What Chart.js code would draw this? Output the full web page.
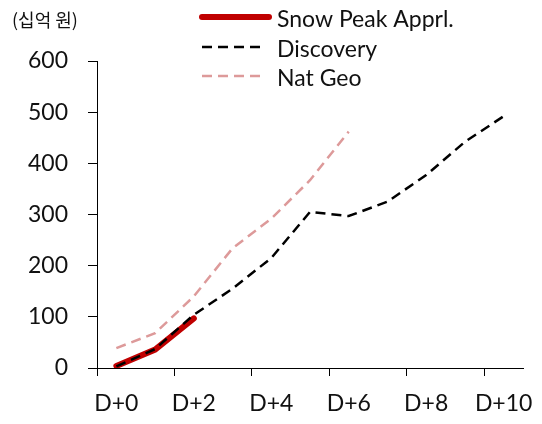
<!DOCTYPE html>
<html>
<head>
<meta charset="utf-8">
<script src="https://cdn.jsdelivr.net/npm/chart.js@4.4.0/dist/chart.umd.min.js"></script>
<style>
  body { margin: 0; background: #fff; }
  #wrap { width: 542px; height: 424px; }
</style>
</head>
<body>
<div id="wrap"><canvas id="chart" width="542" height="424"></canvas></div>
<script>
// categories and series (십억 원)
const days = ['D+0', 'D+1', 'D+2', 'D+3', 'D+4', 'D+5', 'D+6', 'D+7', 'D+8', 'D+9', 'D+10'];
const snowPeak = [4, 36, 97, null, null, null, null, null, null, null, null];
const discovery = [3, 37, 104, 155, 215, 305, 297, 325, 377, 442, 492];
const natGeo = [39, 68, 140, 234, 292, 367, 462, null, null, null, null];
const yTicks = [0, 100, 200, 300, 400, 500, 600];

const FONT = "Lato, 'Noto Sans', sans-serif";

// legend + unit label drawn by hand so the sample lines can be laid out in a column
const customLegend = {
    id: 'customLegend',
    afterDraw(chart) {
        const ctx = chart.ctx;
        ctx.save();
        ctx.fillStyle = '#111';
        ctx.font = "18px 'Noto Sans CJK KR', sans-serif";
        ctx.textBaseline = 'middle';
        ctx.textAlign = 'left';
        ctx.fillText('(십억 원)', 12, 20);

        const rows = [17, 47, 76];
        chart.data.datasets.forEach((ds, i) => {
            const y = rows[i];
            ctx.beginPath();
            ctx.strokeStyle = ds.borderColor;
            ctx.lineWidth = ds.legendWidth;
            ctx.lineCap = ds.borderDash ? 'butt' : 'round';
            ctx.setLineDash(ds.borderDash || []);
            ctx.moveTo(202, y);
            ctx.lineTo(ds.borderDash ? 266 : 269, y);
            ctx.stroke();
            ctx.setLineDash([]);
            ctx.fillStyle = '#111';
            ctx.font = '23px ' + FONT;
            ctx.fillText(ds.label, 277, y + 3);
        });
        ctx.restore();
    }
};

const ctx = document.getElementById('chart').getContext('2d');
new Chart(ctx, {
    type: 'line',
    data: {
        labels: days,
        datasets: [
            {
                label: 'Snow Peak Apprl.',
                data: snowPeak,
                borderColor: '#c00000',
                borderWidth: 6,
                legendWidth: 6,
                borderCapStyle: 'round',
                pointRadius: 0,
                tension: 0,
                order: 2
            },
            {
                label: 'Discovery',
                data: discovery,
                borderColor: '#000000',
                borderWidth: 2.5,
                legendWidth: 2.5,
                borderDash: [10, 6],
                pointRadius: 0,
                tension: 0,
                order: 1
            },
            {
                label: 'Nat Geo',
                data: natGeo,
                borderColor: '#dd9a9a',
                borderWidth: 2.5,
                legendWidth: 2.5,
                borderDash: [10, 6],
                pointRadius: 0,
                tension: 0,
                order: 3
            }
        ]
    },
    options: {
        responsive: false,
        animation: false,
        layout: { padding: { top: 61, right: 19, left: 0, bottom: 0 } },
        plugins: {
            legend: { display: false },
            tooltip: { enabled: false }
        },
        scales: {
            x: {
                offset: true,
                grid: {
                    offset: true,
                    drawOnChartArea: false,
                    tickLength: 8,
                    tickWidth: 1,
                    tickColor: c => (c.index % 2 === 0 ? '#000' : 'rgba(0,0,0,0)')
                },
                border: { display: true, color: '#000', width: 1 },
                ticks: {
                    autoSkip: false,
                    maxRotation: 0,
                    color: '#111',
                    font: { family: FONT, size: 23 },
                    padding: 14,
                    callback: (v, i) => (i % 2 === 0 ? days[i] : '')
                },
                afterFit: s => {
                    s.height = 56;
                    s.paddingLeft = 0;
                    s.paddingRight = 0;
                }
            },
            y: {
                min: yTicks[0],
                max: yTicks[yTicks.length - 1],
                afterBuildTicks: s => { s.ticks = yTicks.map(v => ({ value: v })); },
                grid: {
                    drawOnChartArea: false,
                    tickLength: 9,
                    tickColor: '#000'
                },
                border: { display: true, color: '#000', width: 1 },
                ticks: {
                    color: '#111',
                    font: { family: FONT, size: 23 },
                    padding: 20
                },
                afterFit: s => { s.width = 97; }
            }
        }
    },
    plugins: [customLegend]
});
</script>
</body>
</html>
